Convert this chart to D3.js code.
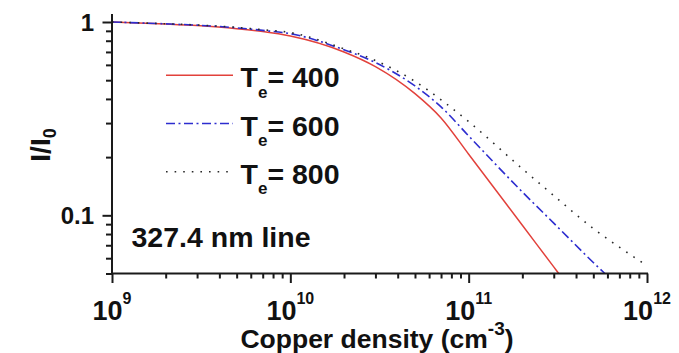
<!DOCTYPE html>
<html>
<head>
<meta charset="utf-8">
<script src="https://cdn.jsdelivr.net/npm/d3@7"></script>
<style>
  html, body { margin: 0; padding: 0; background: #fff; }
  svg { display: block; font-family: "Liberation Sans", Arial, sans-serif; font-weight: bold; }
</style>
</head>
<body>
<svg id="chart" width="679" height="353"></svg>
<script>
// ---- data ----
const densityRed   = [1e9, 2e9, 3e9, 5e9, 7e9, 1e10, 2e10, 3e10, 5e10, 7e10, 1e11, 2e11, 3e11, 3.2e11];
const valuesRed    = [1.0, 0.976, 0.958, 0.924, 0.893, 0.847, 0.700, 0.588, 0.426, 0.319, 0.207, 0.0888, 0.0541, 0.05];
const densityBlue  = [1e9, 2e9, 3e9, 5e9, 7e9, 1e10, 2e10, 3e10, 5e10, 7e10, 1e11, 2e11, 3e11, 5e11, 5.8e11];
const valuesBlue   = [1.0, 0.978, 0.963, 0.933, 0.905, 0.870, 0.718, 0.617, 0.467, 0.364, 0.2575, 0.132, 0.0911, 0.0570, 0.05];
const densityBlack = [1e9, 2e9, 3e9, 5e9, 7e9, 1e10, 2e10, 3e10, 5e10, 7e10, 1e11, 2e11, 3e11, 5e11, 7e11, 1e12];
const valuesBlack  = [1.0, 0.979, 0.965, 0.938, 0.912, 0.882, 0.727, 0.632, 0.493, 0.396, 0.305, 0.174, 0.1265, 0.0854, 0.0684, 0.0549];
const seriesLabels = ["400", "600", "800"];
const xTickExponents = [9, 10, 11, 12];
const yTickLabels = ["1", "0.1"];
const yTickValues = [1, 0.1];
const annotation = "327.4 nm line";

// ---- layout ----
const svg = d3.select("#chart");
const mLeft = 112, mRight = 647, mTop = 14, mBottom = 273.5;

const x = d3.scaleLog().domain([1e9, 1e12]).range([mLeft, mRight]);
const y = d3.scaleLog().domain([0.05, 1.1]).range([mBottom, mTop]);

svg.append("rect").attr("width", 679).attr("height", 353).attr("fill", "#fff");

// ---- series ----
const series = [
  { d: densityRed,   v: valuesRed,   color: "#e2413b", dash: null,          width: 1.5 },
  { d: densityBlue,  v: valuesBlue,  color: "#2d2dcf", dash: "9,3.5,2,3.5", width: 1.6 },
  { d: densityBlack, v: valuesBlack, color: "#2a2a2a", dash: "1.6,7",       width: 1.6 }
];

const line = d3.line().x(p => x(p[0])).y(p => y(p[1])).curve(d3.curveMonotoneX);

series.forEach(s => {
  const pts = s.d.map((d, i) => [d, s.v[i]]);
  svg.append("path")
    .datum(pts)
    .attr("d", line)
    .attr("fill", "none")
    .attr("stroke", s.color)
    .attr("stroke-width", s.width)
    .attr("stroke-dasharray", s.dash);
});

// ---- axes ----
const xMinor = [];
for (let e = 9; e < 12; e++) for (let m = 2; m <= 9; m++) xMinor.push(m * Math.pow(10, e));
const xMajor = xTickExponents.map(e => Math.pow(10, e));

const yMinor = [0.9, 0.8, 0.7, 0.6, 0.5, 0.4, 0.3, 0.2, 0.09, 0.08, 0.07, 0.06, 0.05];

const axisColor = "#1a1a1a";

const xAxisMinor = d3.axisBottom(x).tickValues(xMinor).tickSize(5).tickFormat("");
const xAxisMajor = d3.axisBottom(x).tickValues(xMajor).tickSize(9.5).tickFormat("");
const gxm = svg.append("g").attr("transform", `translate(0,${mBottom})`).call(xAxisMinor);
const gxM = svg.append("g").attr("transform", `translate(0,${mBottom})`).call(xAxisMajor);
[gxm, gxM].forEach(g => {
  g.select(".domain").remove();
  g.selectAll("line").attr("stroke", axisColor).attr("stroke-width", 2);
});

const yAxisMinor = d3.axisLeft(y).tickValues(yMinor).tickSize(6).tickFormat("");
const yAxisMajor = d3.axisLeft(y).tickValues(yTickValues).tickSize(9.5).tickFormat("");
const gym = svg.append("g").attr("transform", `translate(${mLeft},0)`).call(yAxisMinor);
const gyM = svg.append("g").attr("transform", `translate(${mLeft},0)`).call(yAxisMajor);
[gym, gyM].forEach(g => {
  g.select(".domain").remove();
  g.selectAll("line").attr("stroke", axisColor).attr("stroke-width", 2);
});

// axis lines
svg.append("line").attr("x1", mLeft).attr("x2", mRight + 1).attr("y1", mBottom).attr("y2", mBottom)
  .attr("stroke", axisColor).attr("stroke-width", 2);
svg.append("line").attr("x1", mLeft).attr("x2", mLeft).attr("y1", mTop).attr("y2", mBottom + 1)
  .attr("stroke", axisColor).attr("stroke-width", 2);

// x tick labels 10^n
xTickExponents.forEach(e => {
  const t = svg.append("text")
    .attr("x", x(Math.pow(10, e)))
    .attr("y", 319.5)
    .attr("text-anchor", "middle")
    .attr("font-size", 27)
    .attr("fill", "#111");
  t.append("tspan").text("10");
  t.append("tspan").attr("font-size", 16).attr("dy", -16).text(String(e));
});

// y tick labels
yTickValues.forEach((v, i) => {
  svg.append("text")
    .attr("x", 94)
    .attr("y", y(v) + 8.5)
    .attr("text-anchor", "end")
    .attr("font-size", 24)
    .attr("fill", "#111")
    .text(yTickLabels[i]);
});

// axis titles
const xt = svg.append("text")
  .attr("x", 377)
  .attr("y", 348)
  .attr("text-anchor", "middle")
  .attr("font-size", 26.5)
  .attr("fill", "#111");
xt.append("tspan").text("Copper density (cm");
xt.append("tspan").attr("font-size", 19).attr("dy", -13).text("-3");
xt.append("tspan").attr("dy", 13).text(")");

const yt = svg.append("text")
  .attr("transform", "translate(50,145) rotate(-90)")
  .attr("text-anchor", "middle")
  .attr("font-size", 28)
  .attr("fill", "#111");
yt.append("tspan").text("I/I");
yt.append("tspan").attr("font-size", 18).attr("dy", 6).text("0");

// legend
const legendY = [75.3, 123.5, 171.7];
series.forEach((s, i) => {
  svg.append("line")
    .attr("x1", 166).attr("x2", 233)
    .attr("y1", legendY[i]).attr("y2", legendY[i])
    .attr("stroke", s.color)
    .attr("stroke-width", s.width)
    .attr("stroke-dasharray", s.dash);
  const t = svg.append("text")
    .attr("x", 240.5)
    .attr("y", legendY[i] + 12)
    .attr("font-size", 28.5)
    .attr("fill", "#111");
  t.append("tspan").text("T");
  t.append("tspan").attr("font-size", 17).attr("dy", 10.5).text("e");
  t.append("tspan").attr("dy", -10.5).text("= " + seriesLabels[i]);
});

// annotation
svg.append("text")
  .attr("x", 131.5)
  .attr("y", 246.7)
  .attr("font-size", 28.5)
  .attr("fill", "#111")
  .text(annotation);
</script>
</body>
</html>
